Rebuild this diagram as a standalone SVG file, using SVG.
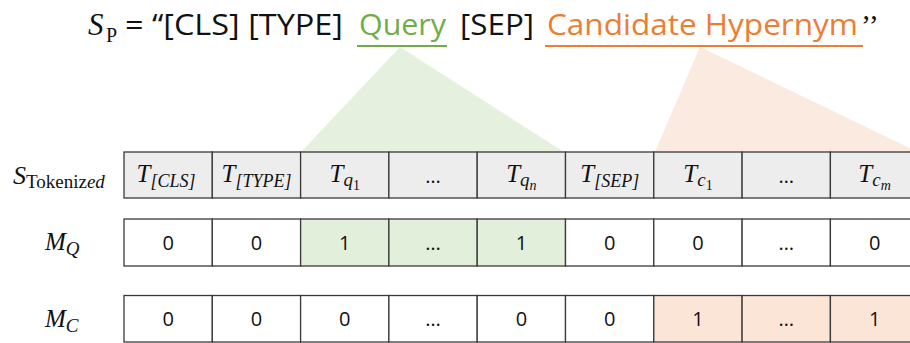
<svg xmlns="http://www.w3.org/2000/svg" width="910" height="343" viewBox="0 0 910 343">
<style>
.cell{stroke:#3a3a3a;stroke-width:1.3}
.hdr{fill:#ededed}
.wh{fill:#ffffff}
.gr{fill:#e2efda}
.or{fill:#fbe5d6}
.m{font-family:"Liberation Serif","DejaVu Serif",serif;font-style:italic;fill:#111}
.up{font-style:normal}
.n{font-family:"Open Sans","Noto Sans",sans-serif;font-size:20px;fill:#111;text-anchor:middle}
.t{font-family:"Open Sans","Noto Sans",sans-serif;font-size:30px}
</style>
<rect width="910" height="343" fill="#ffffff"/>
<g id="title">
<text class="m" x="88" y="35" font-size="31">S</text>
<text class="m up" x="106" y="42" font-size="20">P</text>
<text class="t" x="125" y="35" fill="#111" textLength="218" lengthAdjust="spacingAndGlyphs">= “[CLS] [TYPE]</text>
<text class="t" x="359" y="35" fill="#70ad47" textLength="87" lengthAdjust="spacingAndGlyphs">Query</text>
<line x1="357" y1="46" x2="447" y2="46" stroke="#70ad47" stroke-width="2.2"/>
<text class="t" x="460" y="35" fill="#111" textLength="74" lengthAdjust="spacingAndGlyphs">[SEP]</text>
<text class="t" x="547" y="35" fill="#ed7d31" textLength="311" lengthAdjust="spacingAndGlyphs">Candidate Hypernym</text>
<line x1="545" y1="46" x2="863" y2="46" stroke="#ed7d31" stroke-width="2.2"/>
<text class="m up" x="861" y="35" font-size="30" fill="#111">’’</text>
</g>
<g id="connectors">
<polygon points="400,47 301,152 564,152" fill="#e6f0df"/>
<polygon points="700,47 655,152 918,152" fill="#fbeadf"/>
</g>
<g id="labels">
<text class="m" x="13" y="184" font-size="26">S<tspan class="up" font-size="19" dy="4">Tokeniz</tspan><tspan font-size="19">ed</tspan></text>
<text class="m" x="45" y="250" font-size="25">M<tspan font-size="19" dy="5">Q</tspan></text>
<text class="m" x="45" y="327" font-size="25">M<tspan font-size="19" dy="5">C</tspan></text>
</g>
<g id="row-tokens">
<g id="tok-cls"><rect class="cell hdr" x="124" y="152" width="88.3" height="46"/><text class="m" x="166" y="182" font-size="25" text-anchor="middle">T<tspan font-size="18" dy="5">[CLS]</tspan></text></g>
<g id="tok-type"><rect class="cell hdr" x="212.3" y="152" width="88.3" height="46"/><text class="m" x="256.5" y="182" font-size="25" text-anchor="middle">T<tspan font-size="18" dy="5">[TYPE]</tspan></text></g>
<g id="tok-q1"><rect class="cell hdr" x="300.6" y="152" width="88.3" height="46"/><text class="m" x="344.8" y="182" font-size="25" text-anchor="middle">T<tspan font-size="19" dy="4">q</tspan><tspan class="up" font-size="14" dy="4">1</tspan></text></g>
<g id="tok-qdots"><rect class="cell hdr" x="388.9" y="152" width="88.3" height="46"/><text class="n" x="433" y="183">…</text></g>
<g id="tok-qn"><rect class="cell hdr" x="477.2" y="152" width="88.3" height="46"/><text class="m" x="521.4" y="182" font-size="25" text-anchor="middle">T<tspan font-size="19" dy="4">q</tspan><tspan font-size="14" dy="4">n</tspan></text></g>
<g id="tok-sep"><rect class="cell hdr" x="565.5" y="152" width="88.3" height="46"/><text class="m" x="609.7" y="182" font-size="25" text-anchor="middle">T<tspan font-size="18" dy="5">[SEP]</tspan></text></g>
<g id="tok-c1"><rect class="cell hdr" x="653.8" y="152" width="88.3" height="46"/><text class="m" x="698" y="182" font-size="25" text-anchor="middle">T<tspan font-size="19" dy="4">c</tspan><tspan class="up" font-size="14" dy="4">1</tspan></text></g>
<g id="tok-cdots"><rect class="cell hdr" x="742.1" y="152" width="88.3" height="46"/><text class="n" x="786.3" y="183">…</text></g>
<g id="tok-cm"><rect class="cell hdr" x="830.4" y="152" width="88.3" height="46"/><text class="m" x="874.6" y="182" font-size="25" text-anchor="middle">T<tspan font-size="19" dy="4">c</tspan><tspan font-size="14" dy="4">m</tspan></text></g>
</g>
<g id="row-mq">
<g id="mq-1"><rect class="cell wh" x="124" y="219" width="88.3" height="47"/><text class="n" x="168.2" y="250">0</text></g>
<g id="mq-2"><rect class="cell wh" x="212.3" y="219" width="88.3" height="47"/><text class="n" x="256.5" y="250">0</text></g>
<g id="mq-3"><rect class="cell gr" x="300.6" y="219" width="88.3" height="47"/><text class="n" x="344.8" y="250">1</text></g>
<g id="mq-4"><rect class="cell gr" x="388.9" y="219" width="88.3" height="47"/><text class="n" x="433" y="250">…</text></g>
<g id="mq-5"><rect class="cell gr" x="477.2" y="219" width="88.3" height="47"/><text class="n" x="521.4" y="250">1</text></g>
<g id="mq-6"><rect class="cell wh" x="565.5" y="219" width="88.3" height="47"/><text class="n" x="609.7" y="250">0</text></g>
<g id="mq-7"><rect class="cell wh" x="653.8" y="219" width="88.3" height="47"/><text class="n" x="698" y="250">0</text></g>
<g id="mq-8"><rect class="cell wh" x="742.1" y="219" width="88.3" height="47"/><text class="n" x="786.3" y="250">…</text></g>
<g id="mq-9"><rect class="cell wh" x="830.4" y="219" width="88.3" height="47"/><text class="n" x="874.6" y="250">0</text></g>
</g>
<g id="row-mc">
<g id="mc-1"><rect class="cell wh" x="124" y="295.5" width="88.3" height="46.5"/><text class="n" x="168.2" y="326">0</text></g>
<g id="mc-2"><rect class="cell wh" x="212.3" y="295.5" width="88.3" height="46.5"/><text class="n" x="256.5" y="326">0</text></g>
<g id="mc-3"><rect class="cell wh" x="300.6" y="295.5" width="88.3" height="46.5"/><text class="n" x="344.8" y="326">0</text></g>
<g id="mc-4"><rect class="cell wh" x="388.9" y="295.5" width="88.3" height="46.5"/><text class="n" x="433" y="326">…</text></g>
<g id="mc-5"><rect class="cell wh" x="477.2" y="295.5" width="88.3" height="46.5"/><text class="n" x="521.4" y="326">0</text></g>
<g id="mc-6"><rect class="cell wh" x="565.5" y="295.5" width="88.3" height="46.5"/><text class="n" x="609.7" y="326">0</text></g>
<g id="mc-7"><rect class="cell or" x="653.8" y="295.5" width="88.3" height="46.5"/><text class="n" x="698" y="326">1</text></g>
<g id="mc-8"><rect class="cell or" x="742.1" y="295.5" width="88.3" height="46.5"/><text class="n" x="786.3" y="326">…</text></g>
<g id="mc-9"><rect class="cell or" x="830.4" y="295.5" width="88.3" height="46.5"/><text class="n" x="874.6" y="326">1</text></g>
</g>
</svg>
